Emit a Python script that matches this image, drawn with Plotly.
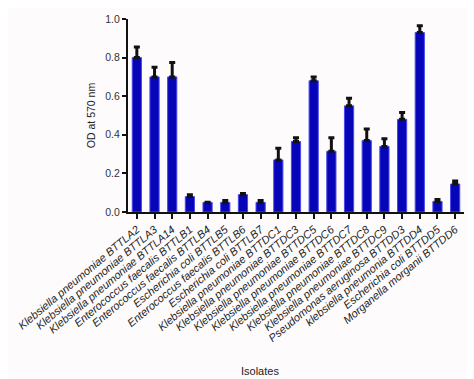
import plotly.graph_objects as go

isolates = [
    "Klebsiella pneumoniae BTTLA2",
    "Klebsiella pneumoniae BTTLA3",
    "Klebsiella pneumoniae BTTLA14",
    "Enterococcus faecalis BTTLB1",
    "Enterococcus faecalis BTTLB4",
    "Escherichia coli BTTLB5",
    "Enterococcus faecalis BTTLB6",
    "Escherichia coli BTTLB7",
    "Klebsiella pneumoniae BTTDC1",
    "Klebsiella pneumoniae BTTDC3",
    "Klebsiella pneumoniae BTTDC5",
    "Klebsiella pneumoniae BTTDC6",
    "Klebsiella pneumoniae BTTDC7",
    "Klebsiella pneumoniae BTTDC8",
    "Klebsiella pneumoniae BTTDC9",
    "Pseudomonas aeruginosa BTTDD3",
    "klebsiella pneumonia BTTDD4",
    "Escherichia coli BTTDD5",
    "Morganella morganii BTTDD6",
]
od_values = [0.80, 0.70, 0.70, 0.08, 0.05, 0.05, 0.09, 0.05, 0.27, 0.365,
             0.68, 0.315, 0.55, 0.37, 0.34, 0.48, 0.93, 0.055, 0.145]
od_errors = [0.055, 0.05, 0.075, 0.01, 0.0, 0.01, 0.006, 0.01, 0.06, 0.02,
             0.02, 0.07, 0.04, 0.06, 0.04, 0.035, 0.035, 0.01, 0.015]
y_ticks = [0.0, 0.2, 0.4, 0.6, 0.8, 1.0]

fig = go.Figure(go.Bar(
    x=list(range(len(isolates))),
    y=od_values,
    width=0.52,
    marker=dict(color="#0606b8", line=dict(color="#4a4ae8", width=1)),
    error_y=dict(type="data", array=od_errors, arrayminus=[0] * len(od_errors),
                 symmetric=False, color="#111111", thickness=3, width=3),
))

# page body adds an 8px offset, so the figure is sized to fill the rest
W, H = 466, 371
L, R, T, B = 120, 10, 11, 167
fig.update_layout(
    width=W, height=H,
    margin=dict(l=L, r=R, t=T, b=B),
    paper_bgcolor="#fdfbfc", plot_bgcolor="#fdfbfc",
    font=dict(family="Liberation Sans, Arial, sans-serif", color="#222222"),
    showlegend=False,
    bargap=0.4,
)
fig.update_xaxes(
    automargin=False,
    range=[-0.5, len(isolates) - 0.5],
    tickmode="array", tickvals=list(range(len(isolates))), ticktext=isolates,
    tickangle=-40, tickfont=dict(size=11, style="italic", color="#222222"),
    showline=True, linecolor="#111111", linewidth=2,
    ticks="outside", ticklen=5, tickwidth=2, tickcolor="#111111",
    showgrid=False, zeroline=False,
)
fig.update_yaxes(
    automargin=False,
    range=[0, 1.0],
    tickmode="array", tickvals=y_ticks, tickformat=".1f",
    tickfont=dict(size=10.5, color="#333333"),
    showline=True, linecolor="#111111", linewidth=2,
    ticks="outside", ticklen=4, tickwidth=2, tickcolor="#111111",
    showgrid=False, zeroline=False,
    title=dict(text="OD at 570 nm", font=dict(size=10.5, color="#222222"), standoff=8),
)
plot_w = W - L - R
plot_h = H - T - B
fig.add_annotation(
    text="Isolates", xref="paper", yref="paper",
    x=(252 - L) / plot_w, y=(H - B - 363) / plot_h,
    xanchor="center", yanchor="middle", showarrow=False,
    font=dict(size=11, color="#222222"),
)
fig.write_html("out.html")
